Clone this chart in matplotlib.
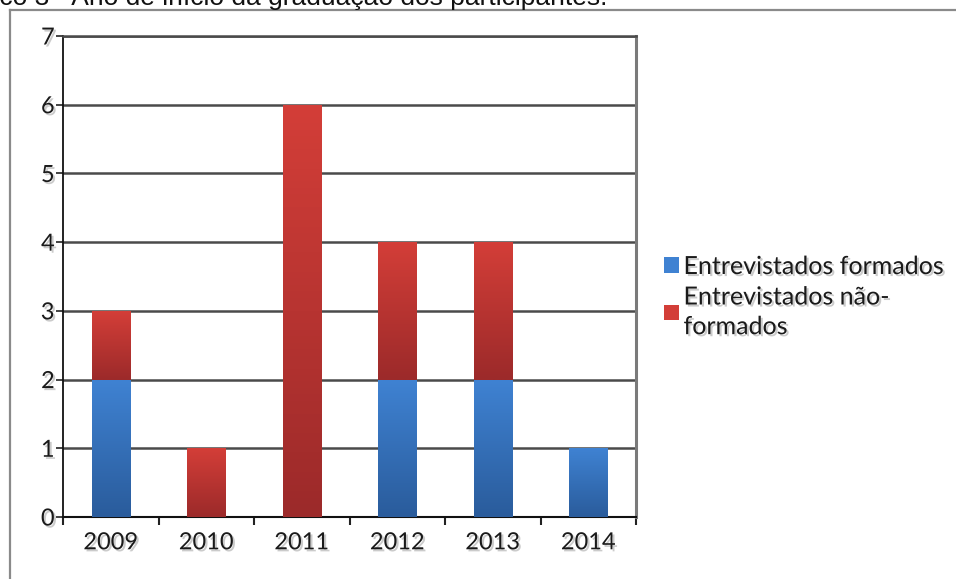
import numpy as np
import matplotlib
matplotlib.use('Agg')
import matplotlib.pyplot as plt
from matplotlib import patheffects as pe
from matplotlib.colors import LinearSegmentedColormap
from matplotlib.patches import Patch
from matplotlib.lines import Line2D

plt.rcParams['font.family'] = ['Lato', 'DejaVu Sans']

years = ['2009', '2010', '2011', '2012', '2013', '2014']
formados = [2, 0, 0, 2, 2, 1]
nao_formados = [1, 1, 6, 2, 2, 0]
labels = ['Entrevistados formados', 'Entrevistados não-\nformados']
title = 'Gráfico 3 - Ano de início da graduação dos participantes.'

blue_top, blue_bottom = '#3f82d2', '#2a5c9c'
red_top, red_bottom = '#d33e38', '#9c2a2a'

shadow = [pe.withSimplePatchShadow(offset=(1.5, -1.5), shadow_rgbFace='#999999', alpha=0.5)]

fig = plt.figure(figsize=(9.56, 5.79), dpi=100)
ax = fig.add_axes([63 / 956, 62 / 579, 573 / 956, 481 / 579])

x = np.arange(len(years))
b1 = ax.bar(x, formados, width=0.4, color=blue_top, zorder=3)
b2 = ax.bar(x, nao_formados, width=0.4, bottom=formados, color=red_top, zorder=3)


def shade(bars, top, bottom):
    cmap = LinearSegmentedColormap.from_list('g', [bottom, top])
    grad = np.linspace(0, 1, 64).reshape(-1, 1)
    for bar in bars:
        if bar.get_height() <= 0:
            continue
        x0, y0 = bar.get_x(), bar.get_y()
        im = ax.imshow(grad, cmap=cmap, aspect='auto', origin='lower',
                       extent=(x0, x0 + bar.get_width(), y0, y0 + bar.get_height()),
                       zorder=3.5)
        im.set_clip_path(bar)


shade(b1, blue_top, blue_bottom)
shade(b2, red_top, red_bottom)

ax.set_xlim(-0.5, len(years) - 0.5)
ax.set_ylim(0, 7)
ax.set_yticks(range(0, 8))
ax.set_xticks(x)
ax.set_xticklabels(years)
ax.set_xticks(np.arange(-0.5, len(years)), minor=True)
ax.tick_params(axis='x', which='major', length=0, pad=11, labelsize=17, labelcolor='#1a1a1a')
ax.tick_params(axis='x', which='minor', length=6, width=1.5, color='#222222', direction='out')
ax.tick_params(axis='y', length=5, width=1.2, color='#222222', labelsize=17, labelcolor='#1a1a1a', pad=1)
for lab in ax.get_xticklabels() + ax.get_yticklabels():
    lab.set_path_effects(shadow)

ax.yaxis.grid(True, color='#4a4a4a', linewidth=1.8, zorder=1)
ax.set_axisbelow(True)
ax.spines['left'].set_color('#111111')
ax.spines['left'].set_linewidth(1.3)
ax.spines['bottom'].set_color('#111111')
ax.spines['bottom'].set_linewidth(1.5)
ax.spines['bottom'].set_path_effects(shadow)
ax.spines['top'].set_color('#4a4a4a')
ax.spines['top'].set_linewidth(1.8)
ax.spines['right'].set_color('#7a7a7a')
ax.spines['right'].set_linewidth(2.2)
ax.spines['right'].set_path_effects([pe.withSimplePatchShadow(offset=(2.5, -2), shadow_rgbFace='#aaaaaa', alpha=0.6)])

handles = [Patch(facecolor=blue_top, edgecolor='none'), Patch(facecolor=red_top, edgecolor='none')]
leg = fig.legend(handles, labels, loc='upper left', bbox_to_anchor=(664 / 956, 1 - 255 / 579),
                 frameon=False, fontsize=18, handlelength=0.58, handleheight=0.58,
                 handletextpad=0.2, labelspacing=0.3, borderaxespad=0, borderpad=0)
for t in leg.get_texts():
    t.set_color('#1a1a1a')
    t.set_linespacing(1.35)
    t.set_path_effects(shadow)

# outer frame
fig.add_artist(Line2D([10 / 956, 10 / 956], [0, 1 - 10 / 579], color='#8a8a8a', lw=1.6))
fig.add_artist(Line2D([10 / 956, 1], [1 - 10 / 579, 1 - 10 / 579], color='#8a8a8a', lw=1.6))

fig.text(607 / 956, 1 - 4.5 / 579, title, ha='right', va='baseline', fontsize=19,
         family='Liberation Sans', color='#111111')

fig.savefig('out.png', dpi=100)
